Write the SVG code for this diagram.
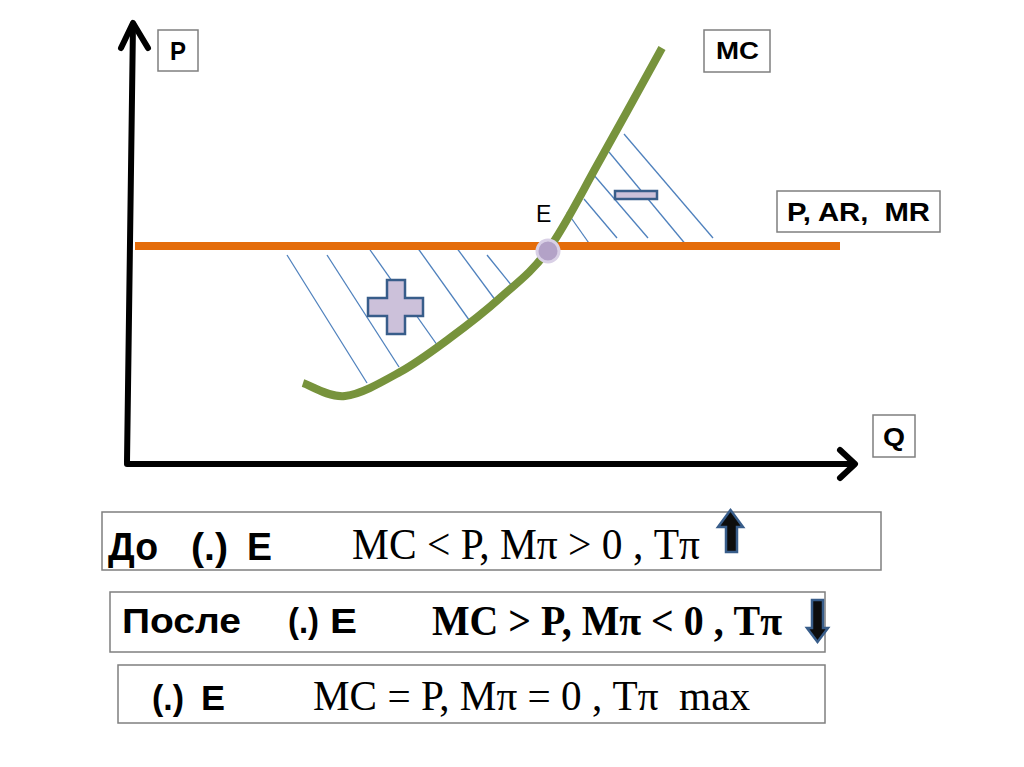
<svg xmlns="http://www.w3.org/2000/svg" width="1024" height="767" viewBox="0 0 1024 767">
<style>
.box{fill:#fff;stroke:#7f7f7f;stroke-width:1.5}
.lbl{font-family:"Liberation Sans",Arial,sans-serif;font-weight:bold;fill:#000;white-space:pre}
.tm{font-family:"Liberation Serif","Times New Roman",serif;fill:#000;white-space:pre}
.hatch{stroke:#4f81bd;stroke-width:1.3;fill:none}
.axis{stroke:#000;stroke-width:6;fill:none;stroke-linecap:round;stroke-linejoin:round}
.sign{fill:#ccc1da;stroke:#385d8a;stroke-width:2.5}
.arr{fill:#0d0d0d;stroke:#385d8a;stroke-width:2.5;stroke-linejoin:miter}
</style>
<rect width="1024" height="767" fill="#fff"/>
<g id="connectors">
<g id="hatching">
<line class="hatch" x1="287" y1="255" x2="367" y2="383"/>
<line class="hatch" x1="327" y1="255" x2="399" y2="367"/>
<line class="hatch" x1="368" y1="247" x2="440" y2="349"/>
<line class="hatch" x1="417" y1="247" x2="472" y2="324"/>
<line class="hatch" x1="456" y1="247" x2="496" y2="301"/>
<line class="hatch" x1="487" y1="255" x2="512" y2="286"/>
<line class="hatch" x1="567" y1="212" x2="591" y2="246"/>
<line class="hatch" x1="584" y1="199" x2="617" y2="238"/>
<line class="hatch" x1="593" y1="174" x2="648" y2="238"/>
<line class="hatch" x1="609" y1="152" x2="687" y2="246"/>
<line class="hatch" x1="624" y1="134" x2="713" y2="238"/>
</g>
<g id="axes">
<path class="axis" d="M127 462 L133 24"/>
<path class="axis" d="M121 48 L133 23 L148 48"/>
<path class="axis" d="M127 464 L854 464"/>
<path class="axis" d="M840 450 L855 464 L840 478"/>
</g>
<line id="price-line" x1="135" y1="246" x2="840" y2="246" stroke="#e46c0a" stroke-width="8"/>
<path id="mc-curve" d="M303 383 C310 385.2 328.8 397.8 345 396 C361.2 394.2 382.5 381.7 400 372 C417.5 362.3 433.3 350.3 450 338 C466.7 325.7 483.7 312.7 500 298 C516.3 283.3 531.3 273 548 250 C564.7 227 581 193.7 600 160 C619 126.3 651.7 66.7 662 48" fill="none" stroke="#77933c" stroke-width="8"/>
</g>
<g id="point-E">
<circle cx="548" cy="251" r="11" fill="#b3a2c7" stroke="#d9d0e6" stroke-width="3"/>
<text x="536" y="222" font-family="Liberation Sans,Arial,sans-serif" font-size="23" fill="#000">E</text>
</g>
<g id="plus-sign">
<polygon class="sign" points="387,280 405,280 405,298 423,298 423,316 405,316 405,334 387,334 387,316 368,316 368,298 387,298"/>
</g>
<g id="minus-sign">
<rect class="sign" x="615" y="191" width="42" height="8" fill="#dcd6ea"/>
</g>
<g id="label-P">
<rect class="box" x="158" y="30" width="40" height="41"/>
<text class="lbl" x="170" y="60" font-size="26" textLength="16" lengthAdjust="spacingAndGlyphs">P</text>
</g>
<g id="label-MC">
<rect class="box" x="704" y="30" width="66" height="42"/>
<text class="lbl" x="716" y="59" font-size="23" textLength="43" lengthAdjust="spacingAndGlyphs">MC</text>
</g>
<g id="label-PARMR">
<rect class="box" x="777" y="191" width="163" height="41"/>
<text class="lbl" x="787" y="221" font-size="26" textLength="143" lengthAdjust="spacingAndGlyphs">P, AR,  MR</text>
</g>
<g id="label-Q">
<rect class="box" x="873" y="415" width="42" height="42"/>
<text class="lbl" x="883" y="446" font-size="25" textLength="22" lengthAdjust="spacingAndGlyphs">Q</text>
</g>
<g id="row-before">
<rect class="box" x="102" y="512" width="779" height="58"/>
<text class="lbl" x="108" y="560" font-size="38" textLength="50" lengthAdjust="spacingAndGlyphs">До</text>
<text class="lbl" x="191" y="560" font-size="38" textLength="37" lengthAdjust="spacingAndGlyphs">(.)</text>
<text class="lbl" x="247" y="560" font-size="38" textLength="25" lengthAdjust="spacingAndGlyphs">E</text>
<text class="tm" x="352" y="559" font-size="44" textLength="348" lengthAdjust="spacingAndGlyphs">MC &lt; P, Mπ &gt; 0 , Tπ</text>
<polygon class="arr" points="730.5,510 743,527 737,527 737,552 726,552 726,527 718,527"/>
</g>
<g id="row-after">
<rect class="box" x="110" y="592" width="715" height="60"/>
<text class="lbl" x="122" y="633" font-size="35" textLength="119" lengthAdjust="spacingAndGlyphs">После</text>
<text class="lbl" x="288" y="633" font-size="35" textLength="31" lengthAdjust="spacingAndGlyphs">(.)</text>
<text class="lbl" x="330" y="633" font-size="35" textLength="27" lengthAdjust="spacingAndGlyphs">E</text>
<text class="tm" x="432" y="635" font-size="42" font-weight="bold" textLength="350" lengthAdjust="spacingAndGlyphs">MC &gt; P, Mπ &lt; 0 , Tπ</text>
<polygon class="arr" points="812,600 823,600 823,628 828,628 817.5,642 807,628 812,628"/>
</g>
<g id="row-max">
<rect class="box" x="118" y="665" width="707" height="58"/>
<text class="lbl" x="152" y="710" font-size="35" textLength="32" lengthAdjust="spacingAndGlyphs">(.)</text>
<text class="lbl" x="201" y="710" font-size="35" textLength="24" lengthAdjust="spacingAndGlyphs">E</text>
<text class="tm" x="313" y="710" font-size="42" textLength="437" lengthAdjust="spacingAndGlyphs">MC = P, Mπ = 0 , Tπ  max</text>
</g>
</svg>
